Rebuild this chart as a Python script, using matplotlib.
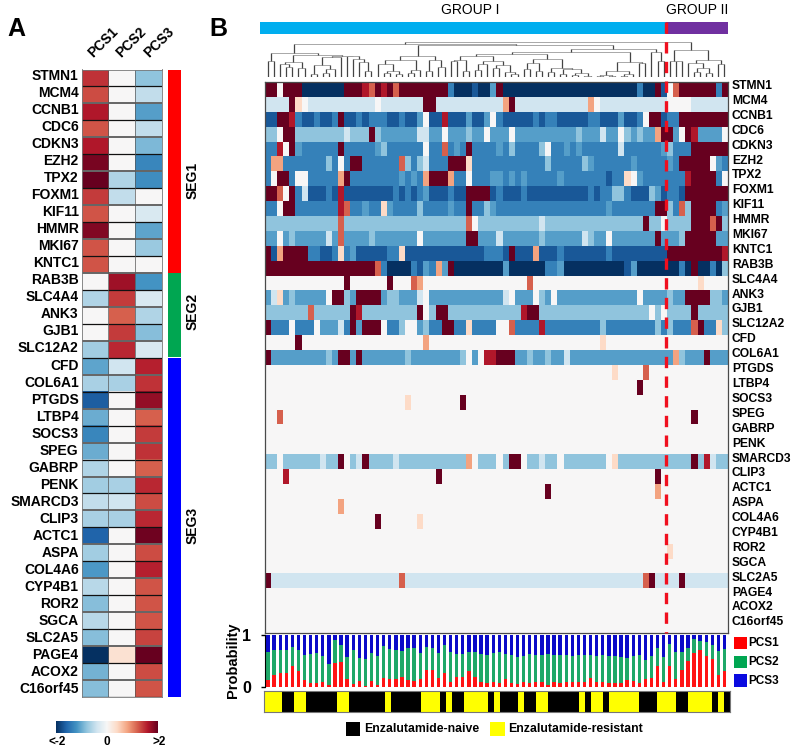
import matplotlib
matplotlib.use("Agg")
import matplotlib.pyplot as plt
import numpy as np
from matplotlib.patches import Rectangle

plt.rcParams["font.family"] = ["Liberation Sans", "DejaVu Sans"]
plt.rcParams["font.weight"] = "bold"

W, H = 800, 754

genes = ["STMN1", "MCM4", "CCNB1", "CDC6", "CDKN3", "EZH2", "TPX2", "FOXM1", "KIF11", "HMMR",
         "MKI67", "KNTC1", "RAB3B", "SLC4A4", "ANK3", "GJB1", "SLC12A2", "CFD", "COL6A1", "PTGDS",
         "LTBP4", "SOCS3", "SPEG", "GABRP", "PENK", "SMARCD3", "CLIP3", "ACTC1", "ASPA", "COL4A6",
         "CYP4B1", "ROR2", "SGCA", "SLC2A5", "PAGE4", "ACOX2", "C16orf45"]
pcs_names = ["PCS1", "PCS2", "PCS3"]

# panel A, z score per gene and subtype
pcs1_z = [1.45, 1.3, 1.6, 1.25, 1.6, 1.9, 2.0, 1.4, 1.25, 1.85, 1.25, 1.25,
          0, -0.6, 0, 0, -0.7,
          -1.05, -0.65, -1.65, -1.0, -1.3, -1.0, -0.6, -0.7, -0.5, -0.65, -1.6, -0.7, -1.15,
          -0.55, -0.85, -0.55, -0.85, -2.0, -0.95, -0.85]
pcs2_z = [0, 0, 0, 0, 0, 0, -0.6, -0.5, 0, 0, 0, 0,
          1.7, 1.4, 1.2, 1.4, 1.5,
          -0.4, -0.65, 0, 0, 0, 0, 0, -0.65, -0.4, -0.65, 0, 0, 0,
          0, 0, 0, 0, 0.3, 0, 0]
pcs3_z = [-0.8, -0.5, -1.1, -0.5, -0.9, -1.3, -1.25, 0, -0.3, -1.05, -0.75, 0,
          -1.2, -0.3, -0.6, -0.85, -0.3,
          1.55, 1.45, 1.75, 1.2, 1.4, 1.45, 1.2, 1.5, 1.3, 1.5, 1.95, 1.3, 1.55,
          1.25, 1.25, 1.25, 1.35, 2.0, 1.3, 1.25]

# segments: name, number of genes
seg_names = ["SEG1", "SEG2", "SEG3"]
seg_sizes = [12, 5, 20]
seg_colors = ["#ff0000", "#00a651", "#0000ff"]

# panel B, runs along the samples: level letter + run length
levels = {"N": -2.0, "D": -1.7, "M": -1.35, "L": -1.1, "S": -0.8, "P": -0.4, ".": 0,
          "o": 0.4, "q": 0.8, "O": 1.2, "R": 1.6, "X": 2.0}
heat_runs = [
    "X2 .1 X3 N7 X3 R1 O1 X1 R1 X1 O1 X8 M1 N3 D1 N2 L1 X1 N22 M1 N2 X1 D1 .1 O1 X6 M1 X1",
    "P4 X1 o1 .1 P11 .1 P7 X2 P11 q1 X1 P12 q1 .1 P11 .4 P6",
    "D2 X2 R1 M1 D2 M1 D2 M1 X1 D2 M1 D1 M2 M1 D2 M1 D2 L1 .1 D2 R1 D3 L1 D2 L1 .1 M1 D5 M1 D1 M2 D5 M2 D3 L1 D2 M1 .1 X2 D1 M2 X8",
    "S2 .1 X2 S8 P1 S3 X1 S1 L6 P2 L2 .1 L3 S1 L2 .1 L3 .1 L10 S1 L3 P1 L2 .1 S1 L1 S1 L2 q1 X2 L1 .1 X1 R1 L4 .1",
    "M2 R1 .1 X1 L1 M6 X1 M5 L1 S1 M6 .1 M2 O1 M1 L1 M1 X1 M4 L1 M1 S1 M4 S1 .1 M2 L1 M1 L1 M6 P1 M6 L1 S1 M3 X6",
    "M1 q2 M7 S1 M1 .1 M1 X2 M6 O1 S1 M1 S1 P1 M3 X3 o1 M12 S1 M5 S1 L1 M6 L1 M5 L1 M1 X5 .1 L1 M1",
    "M1 .1 X2 M1 .2 M5 q1 X1 M8 L1 M1 L1 M1 q1 X3 q1 M2 .1 M3 L2 M1 L1 M1 L1 M5 L1 M7 D1 M2 o1 .1 L1 M7 R1 X4 M1 .1",
    "X2 O1 .1 X1 M1 P1 D3 M1 D1 R1 D8 M1 D1 M1 D1 M1 L1 D3 M1 D2 X4 D1 M1 D3 M1 D10 M1 D1 M2 S2 M1 D3 S1 L1 D1 M2 D1 X7",
    "M2 .1 X2 M7 R1 O1 M2 L1 M2 o1 L1 M4 S1 M4 L1 M2 X1 M2 S1 L1 M18 L1 M7 X2 S1 M1 O1 S1 X4 M1 L1",
    "S12 O1 S20 O1 .1 S10 P1 S16 X1 S2 .1 S4 X3 O1 X1 S1",
    "L2 .1 L1 S1 L5 P1 L1 O1 L4 S1 L7 .1 L7 X2 L3 P1 L6 S1 L6 P1 S1 L2 .1 L7 X1 L3 S1 X5 L2",
    "X1 D1 q1 X4 M2 D2 M1 o1 M1 L1 D5 M2 o1 D13 M1 M2 D1 X1 D3 q1 D3 M1 D7 M1 D9 X9 R1",
    "X18 O1 M1 N4 M1 D1 L1 M1 q1 L1 X1 N6 N2 L1 N6 M2 L1 N10 D1 L1 N7 M1 N1 X1 N2 M1 N1 S1",
    ".13 X1 .6 X1 .3 O1 q1 .17 O1 .27 o1 .4",
    "L1 P1 o1 L1 S1 L5 .1 X2 S1 L1 X4 L1 S1 S1 L3 P1 .1 L12 P1 .1 L3 .1 S1 L1 .1 L13 .1 L4 S1 L2 X4 S1 S1 L1",
    "S7 O1 S6 X1 R1 S9 X1 .1 S1 X2 S12 R1 X2 S18 .1 S1 .1 S4 X1 S5",
    "X1 M3 .1 M3 .1 L3 P1 M1 X1 L1 X3 .1 M2 S1 .2 L1 S1 M2 X2 M2 o1 M4 .2 O1 M4 R1 M9 S1 M8 S1 M1 S1 M3 O1 X1 M2 o1 S1",
    ".5 X1 .20 q1 .28 o1 .20",
    "X1 L9 S1 L1 X2 L1 X1 L7 S1 L8 S1 .1 L1 .1 R2 X3 L2 S1 L2 S1 L2 P1 L17 q1 S1 L3 X1 L3",
    ".57 o1 .4 O1 .13",
    ".61 X1 .14",
    ".23 o1 .8 X1 .43",
    ".2 O1 .67 X1 .5",
    ".76",
    ".76",
    "S2 .1 S6 P1 S2 X1 .1 S1 P1 X1 S4 P1 S11 q1 .1 S3 .1 S1 X2 .1 S2 P1 S2 .1 S7 .1 o1 S12 X1 S1 R1 P1 S2",
    ".3 R1 .24 X1 .35 X1 .11",
    ".46 X1 .17 q1 .11",
    ".12 q1 .63",
    ".18 X1 .6 o1 .50",
    ".76",
    ".66 o1 .9",
    ".76",
    "X1 P21 O1 P39 O1 X1 P4 X1 P7",
    ".76",
    ".76",
    ".76",
]

# stacked probabilities per sample
prob_red = [.14, .24, .27, .27, .41, .31, .14, .08, .08, .11, .04, .46, .49, .15, .07, .13, .03, .13, .05, .17,
            .15, .16, .20, .14, .13, .16, .33, .34, .18, .27, .11, .19, .19, .31, .19, .11, .08, .11, .09, .15,
            .09, .07, .10, .08, .10, .10, .04, .10, .08, .11, .11, .11, .11, .18, .11, .10, .08, .08, .08, .14,
            .12, .08, .16, .17, .41, .11, .41, .15, .34, .50, .65, .71, .60, .54, .24, .31]
prob_green_top = [.68, .71, .71, .71, .78, .71, .62, .63, .65, .60, .45, .90, .80, .57, .71, .56, .54, .65, .60, .79,
                  .73, .71, .70, .75, .76, .65, .78, .76, .65, .80, .68, .64, .64, .68, .68, .63, .62, .66, .67, .63,
                  .61, .58, .59, .63, .62, .62, .63, .62, .61, .62, .60, .61, .61, .62, .60, .61, .59, .60, .57, .56,
                  .60, .61, .52, .59, .76, .57, .83, .68, .68, .75, .92, .89, .87, .81, .70, .73]

# treatment strip, 0 naive, 1 resistant, alternating runs starting with resistant
strip_runs = [3, 2, 2, 5, 2, 6, 1, 5, 3, 1, 1, 2, 4, 1, 1, 3, 1, 2, 2, 5, 1, 1, 2, 1, 5, 3, 3, 2, 4, 1, 1, 1]

# dendrogram, (height, left, right), L is a sample
L = None
a_part = (15, (13, L, (10, L, L)), (9, L, L))
b_part = (20, (12, (3, L, L), (8, (4, L, L), L)), L)
c_part = (21, L, (18, L, (15, L, (6, L, L))))
left_top = (24, (16, L, L), (22, a_part, (21.5, b_part, c_part)))
d_part = (17, (13, L, (6, (4, L, L), (3, L, L))), (7, (4, L, L), L))
f_part = (17, (6, L, L), (10, L, L))
z_part = (20.7, d_part, f_part)
t1 = (21, (17, (16, L, L), (6, L, L)), (16, (13, (7, L, L), L), (12, (9, L, L), (5, L, (3, L, L)))))
t2 = (18, (14, (8, L, L), (6, L, L)), (9, (5, L, L), (8, (3, L, L), (4, (2, L, L), (1.5, L, L)))))
r_part = (15, (6, (2, (1.5, L, L), (1.5, L, L)), (3, (1.5, L, L), L)), (14, L, L))
q_part = (25, L, (16, L, L))
w_part = (28, (25, (23, t1, t2), r_part), q_part)
g2_part = (27, (16, L, (16, L, L)), (17, (14, L, (9, (5, L, L), (4, L, L))), (13, L, L)))
tree = (35, (33.4, left_top, (32.5, z_part, w_part)), g2_part)


def decode(run):
    out = []
    for tok in run.split():
        out += [levels[tok[0]]] * int(tok[1:])
    assert len(out) == 76, run
    return out


def axpx(x0, y0, x1, y1):
    ax = fig.add_axes([x0 / W, 1 - y1 / H, (x1 - x0) / W, (y1 - y0) / H])
    return ax


def walk(node, pos, segs):
    if node is None:
        pos[0] += 1
        return pos[0] - 0.5, 0
    xa, ha = walk(node[1], pos, segs)
    xb, hb = walk(node[2], pos, segs)
    segs.append((xa, xb, ha, hb, node[0]))
    return (xa + xb) / 2, node[0]


fig = plt.figure(figsize=(W / 100, H / 100), dpi=100)
cmap = plt.get_cmap("RdBu_r")

# page layer in pixel coordinates, for texts and legend squares
page = fig.add_axes([0, 0, 1, 1])
page.set_xlim(0, W)
page.set_ylim(H, 0)
page.axis("off")

page.text(16, 29, "A", fontsize=18, ha="center", va="center")
page.text(218, 29, "B", fontsize=18, ha="center", va="center")

# panel A
a_top, a_bot = 69.5, 697
ax_a = axpx(81.7, a_top, 161.7, a_bot)
zmat = np.array([pcs1_z, pcs2_z, pcs3_z]).T
ax_a.imshow(zmat, cmap=cmap, vmin=-2, vmax=2, aspect="auto", interpolation="nearest")
for i in range(len(genes) + 1):
    if i % 2 == 1:
        ax_a.axhline(i - 0.5, color="#111111", lw=0.9)
    else:
        ax_a.axhline(i - 0.5, color="#666666", lw=1.4)
for j in [0.5, 1.5]:
    ax_a.axvline(j, color="#555555", lw=0.5)
ax_a.set_xticks([])
ax_a.set_yticks([])
for s in ax_a.spines.values():
    s.set_color("#777777")
    s.set_linewidth(0.6)

row_a = (a_bot - a_top) / len(genes)
for i, g in enumerate(genes):
    page.text(78.7, 76 + i * 17.03, g, fontsize=10, ha="right", va="center")
for j, name in enumerate(pcs_names):
    page.text(95 + j * 28, 60, name, fontsize=10, rotation=45, ha="left", va="bottom",
              rotation_mode="anchor")

start = 0
seg_text_y = [180, 312, 525]
for name, n, c, ty in zip(seg_names, seg_sizes, seg_colors, seg_text_y):
    y0 = a_top + start * row_a
    y1 = a_top + (start + n) * row_a
    page.add_patch(Rectangle((167.7, y0 + 0.4), 13, y1 - y0 - 0.8, color=c, lw=0))
    page.text(193, ty, name, fontsize=10, rotation=90, ha="center", va="center")
    start += n

# colour scale
ax_cb = axpx(56, 720.7, 157.7, 732.7)
ax_cb.imshow(np.linspace(-2, 2, 256)[None, :], cmap=cmap, vmin=-2, vmax=2, aspect="auto")
ax_cb.axis("off")
page.text(57, 741.7, "<-2", fontsize=8.5, ha="center", va="center")
page.text(107, 741.7, "0", fontsize=8.5, ha="center", va="center")
page.text(159, 741.7, ">2", fontsize=8.5, ha="center", va="center")

# panel B heat map
heat = np.array([decode(r) for r in heat_runs])
ax_b = axpx(265, 82, 727.5, 633)
ax_b.imshow(heat, cmap=cmap, vmin=-2, vmax=2, aspect="auto", interpolation="nearest")
ax_b.set_xticks([])
ax_b.set_yticks([])
for s in ax_b.spines.values():
    s.set_color("#4a4a4a")
    s.set_linewidth(0.9)
for i, g in enumerate(genes):
    page.text(732, 86 + i * 14.9, g, fontsize=8.7, ha="left", va="center")

# group bars
page.add_patch(Rectangle((260, 21.7), 405.5, 12.6, color="#00aeef", lw=0))
page.add_patch(Rectangle((665.5, 21.7), 62, 12.6, color="#7030a0", lw=0))
page.text(470, 10, "GROUP I", fontsize=10, ha="center", va="center", fontweight="normal")
page.text(697, 10, "GROUP II", fontsize=10, ha="center", va="center", fontweight="normal")

# dendrogram
ax_d = axpx(265, 41, 727.5, 77)
segs = []
walk(tree, [0], segs)
for xa, xb, ha, hb, h in segs:
    ax_d.plot([xa, xb], [h, h], color="#9a9a9a", lw=0.6, solid_capstyle="butt")
    ax_d.plot([xa, xa], [ha, h], color="#444444", lw=0.9, solid_capstyle="butt")
    ax_d.plot([xb, xb], [hb, h], color="#444444", lw=0.9, solid_capstyle="butt")
ax_d.set_xlim(0, 76)
ax_d.set_ylim(0, 36)
ax_d.axis("off")

# probability bars
xs = np.arange(76)
red = np.array(prob_red)
green_top = np.array(prob_green_top)
ax_p = axpx(265, 635, 727.5, 687.3)
ax_p.bar(xs, red, width=0.55, color="#ff1414")
ax_p.bar(xs, green_top - red, bottom=red, width=0.55, color="#1fa868")
ax_p.bar(xs, 1 - green_top, bottom=green_top, width=0.55, color="#0a0ac8")
ax_p.set_xlim(-0.5, 75.5)
ax_p.set_ylim(0, 1)
ax_p.set_xticks([])
ax_p.set_yticks([0, 1])
ax_p.tick_params(axis="y", length=3, width=1, pad=7, labelsize=11.5)
for k in ["top", "right", "bottom"]:
    ax_p.spines[k].set_visible(False)
ax_p.patch.set_alpha(0)
page.text(233, 660, "Probability", fontsize=10.5, rotation=90, ha="center", va="center")

legend_y = [636.7, 655.7, 674.3]
legend_c = ["#ff0000", "#00a651", "#0a0ae0"]
for name, y, c in zip(pcs_names, legend_y, legend_c):
    page.add_patch(Rectangle((734.3, y), 12.7, 12.3, color=c, lw=0))
    page.text(748.3, y + 6.2, name, fontsize=8.5, ha="left", va="center")

# treatment strip
strip = []
val = 1
for n in strip_runs:
    strip += [val] * n
    val = 1 - val
ax_s = axpx(264.3, 691, 730, 712.3)
ax_s.imshow(np.array(strip)[None, :], cmap=matplotlib.colors.ListedColormap(["#000000", "#ffff00"]),
            vmin=0, vmax=1, aspect="auto", interpolation="nearest")
ax_s.set_xticks([])
ax_s.set_yticks([])
for s in ax_s.spines.values():
    s.set_color("#777777")
    s.set_linewidth(0.8)

page.add_patch(Rectangle((346.3, 721.7), 14, 14, color="#000000", lw=0))
page.text(364, 729, "Enzalutamide-naive", fontsize=8.8, ha="left", va="center")
page.add_patch(Rectangle((490, 721.7), 15, 14, color="#ffff00", lw=0))
page.text(508.3, 729, "Enzalutamide-resistant", fontsize=8.8, ha="left", va="center")

# split between the groups, on top of the panels
over = fig.add_axes([0, 0, 1, 1], facecolor="none")
over.set_xlim(0, W)
over.set_ylim(H, 0)
over.axis("off")
over.plot([665.7, 665.7], [22, 633], color="#f00f1e", lw=2.4, linestyle=(0, (3.4, 2.5)))

fig.savefig("out.png", dpi=100)
